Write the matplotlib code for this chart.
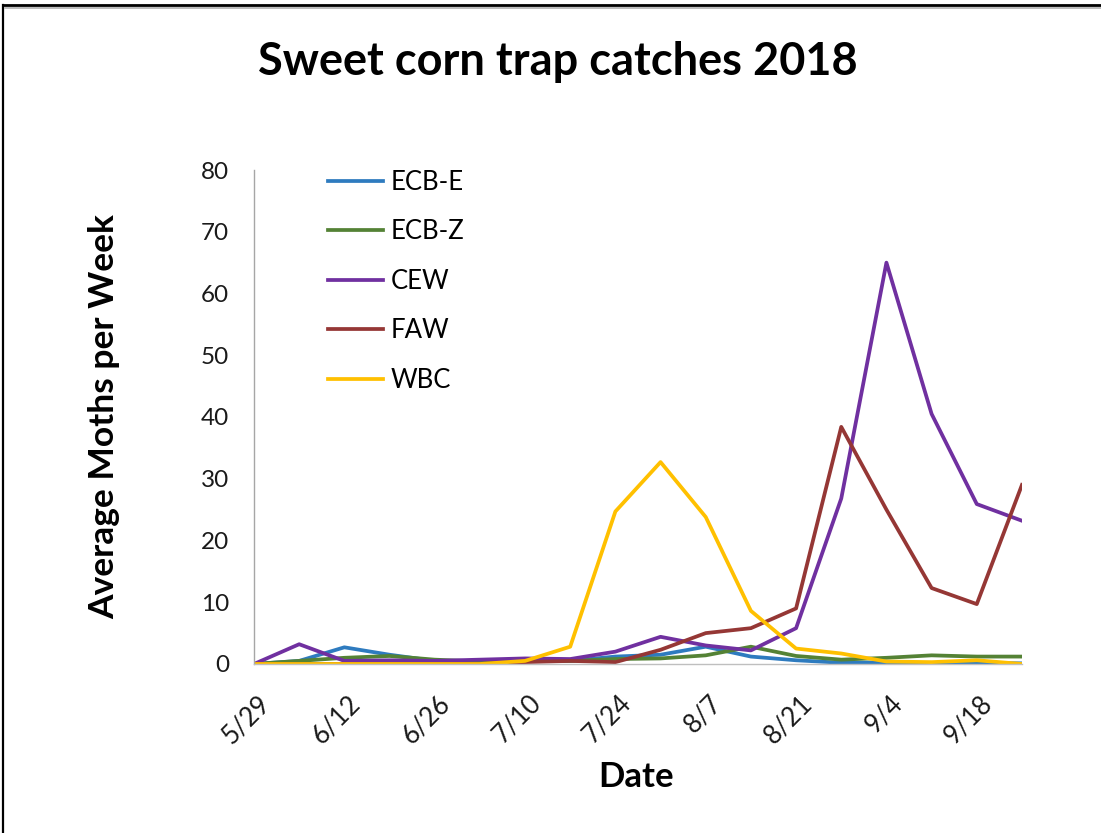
import matplotlib
matplotlib.use("Agg")
import matplotlib.pyplot as plt
import matplotlib.transforms as mtransforms
from matplotlib.lines import Line2D

plt.rcParams['font.family'] = ['Lato', 'DejaVu Sans']

# weekly trap dates
dates = ['5/29', '6/5', '6/12', '6/19', '6/26', '7/3', '7/10', '7/17', '7/24',
         '7/31', '8/7', '8/14', '8/21', '8/28', '9/4', '9/11', '9/18', '9/25']

ecb_e = [0, 0.5, 2.7, 1.5, 0.5, 0.3, 0.5, 0.5, 1.2, 1.5, 2.8, 1.2, 0.6, 0.2, 0.2, 0.1, 0.2, 0.1]
ecb_z = [0, 0.5, 1.0, 1.3, 0.7, 0.4, 0.5, 0.5, 0.8, 0.9, 1.4, 2.8, 1.3, 0.7, 1.0, 1.4, 1.2, 1.2]
cew = [0, 3.2, 0.5, 0.6, 0.5, 0.7, 0.9, 0.8, 2.0, 4.4, 3.0, 2.2, 5.8, 26.8, 65.0, 40.5, 25.9, 23.2]
faw = [0, 0, 0, 0, 0, 0, 0.3, 0.5, 0.3, 2.3, 5.0, 5.8, 9.0, 38.4, 25.0, 12.3, 9.7, 29.0]
wbc = [0, 0, 0, 0, 0, 0, 0.5, 2.8, 24.7, 32.7, 23.8, 8.6, 2.5, 1.7, 0.4, 0.3, 0.6, 0]

series = [('ECB-E', ecb_e, '#2E7BBF'),
          ('ECB-Z', ecb_z, '#548235'),
          ('CEW', cew, '#7030A0'),
          ('FAW', faw, '#953735'),
          ('WBC', wbc, '#FFC000')]

fig = plt.figure(figsize=(11.01, 8.33), dpi=100)
ax = fig.add_axes([0.2307, 0.2029, 0.6975, 0.593])

x = list(range(len(dates)))
for name, vals, col in series:
    ax.plot(x, vals, color=col, linewidth=2.7, label=name)

ax.set_xlim(0, len(dates) - 1)
ax.set_ylim(0, 80)
ax.set_yticks(range(0, 81, 10))
ax.set_xticks(x[::2])
ax.set_xticklabels(dates[::2], rotation=45, ha='right', rotation_mode='anchor')
ax.tick_params(axis='both', length=0, colors='#1a1a1a')
ax.tick_params(axis='y', pad=18, labelsize=17.5)
ax.tick_params(axis='x', pad=19, labelsize=18.5)

# nudge the slanted date labels a little to the right
shift = mtransforms.ScaledTranslation(3 / 100, 0, fig.dpi_scale_trans)
for lab in ax.get_xticklabels():
    lab.set_transform(lab.get_transform() + shift)

for s in ['top', 'right']:
    ax.spines[s].set_visible(False)
ax.spines['left'].set_color('#A6A6A6')
ax.spines['bottom'].set_color('#BFBFBF')
ax.spines['left'].set_linewidth(1.0)
ax.spines['bottom'].set_linewidth(1.0)

ax.legend(loc='upper left', bbox_to_anchor=(0.0964, 1.0), frameon=False,
          fontsize=18.5, handlelength=2.15, handletextpad=0.28,
          labelspacing=0.95, borderpad=0, borderaxespad=0)

fig.text(0.507, 0.9256, 'Sweet corn trap catches 2018', ha='center', va='center',
         fontsize=32.5, fontweight='bold')
fig.text(0.095, 0.4994, 'Average Moths per Week', ha='center', va='center',
         rotation=90, fontsize=25.5, fontweight='bold')
fig.text(0.578, 0.067, 'Date', ha='center', va='center', fontsize=25, fontweight='bold')

# chart frame on the left and top edges
fig.add_artist(Line2D([0.0027, 0.0027], [0.0, 0.9935], transform=fig.transFigure,
                      color='black', linewidth=1.6))
fig.add_artist(Line2D([0.0027, 1.0], [0.9935, 0.9935], transform=fig.transFigure,
                      color='black', linewidth=2.0))
fig.add_artist(Line2D([0.0045, 1.0], [0.9905, 0.9905], transform=fig.transFigure,
                      color='#b0b0b0', linewidth=1.2))

fig.savefig('out.png', dpi=100)
